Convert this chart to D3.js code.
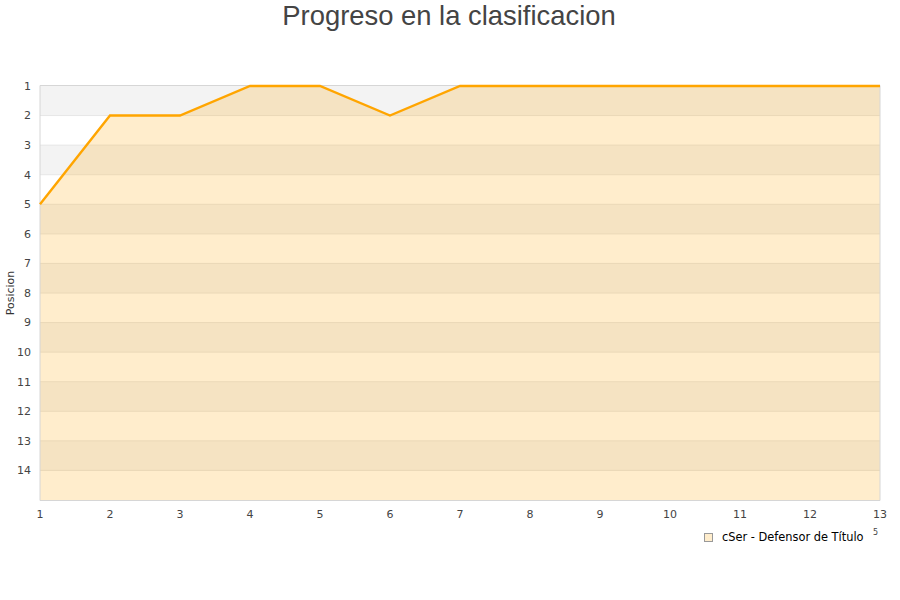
<!DOCTYPE html>
<html><head><meta charset="utf-8">
<script src="https://cdn.jsdelivr.net/npm/d3@7"></script>
<style>body{margin:0;background:#fff}svg{display:block}</style>
</head><body>
<svg id="c" width="900" height="600"></svg>
<script>
const jornadas = [1,2,3,4,5,6,7,8,9,10,11,12,13];
const posiciones = [5,2,2,1,1,2,1,1,1,1,1,1,1];
const yTicks = [1,2,3,4,5,6,7,8,9,10,11,12,13,14];
const serieNombre = "cSer - Defensor de Título";
const titulo = "Progreso en la clasificacion";
const yTitulo = "Posicion";

const svg = d3.select("#c");
const L=40, R=880, T=86, B=500;
const x = d3.scaleLinear().domain([1,13]).range([L,R]);
const y = d3.scaleLinear().domain([1,15]).range([T,B]);

const bands = d3.range(1,15);
svg.append("g").selectAll("rect").data(bands).join("rect")
  .attr("x",L).attr("width",R-L)
  .attr("y",d=>y(d)).attr("height",d=>y(d+1)-y(d))
  .attr("fill",d=>d%2===1?"#f3f3f3":"#ffffff");

svg.append("g").selectAll("line").data(yTicks.slice(1)).join("line")
  .attr("x1",L).attr("x2",R).attr("y1",d=>y(d)).attr("y2",d=>y(d))
  .attr("stroke","#e6e6e6").attr("stroke-width",1);

const data = jornadas.map((j,i)=>({j,p:posiciones[i]}));

svg.append("path").datum(data)
  .attr("d",d3.area().x(d=>x(d.j)).y0(y(15)).y1(d=>y(d.p)))
  .attr("fill","orange").attr("fill-opacity",0.2);

svg.append("path")
  .attr("d",`M${L},${T-0.5}H${R}V${B+0.5}H${L}Z`)
  .attr("fill","none").attr("stroke","#d6d6d6").attr("stroke-width",1);

svg.append("path").datum(data)
  .attr("d",d3.line().x(d=>x(d.j)).y(d=>y(d.p)))
  .attr("fill","none").attr("stroke","orange").attr("stroke-width",2.4);

svg.append("g").selectAll("text").data(yTicks).join("text")
  .attr("x",31).attr("y",d=>y(d)).attr("dy","0.35em")
  .attr("text-anchor","end")
  .attr("font-family","DejaVu Sans").attr("font-size",11).attr("fill","#444")
  .text(d=>d);

svg.append("g").selectAll("text").data(jornadas).join("text")
  .attr("x",d=>x(d)).attr("y",518)
  .attr("text-anchor","middle")
  .attr("font-family","DejaVu Sans").attr("font-size",11).attr("fill","#444")
  .text(d=>d);

svg.append("text").attr("x",449).attr("y",25).attr("text-anchor","middle")
  .attr("font-family","Liberation Sans").attr("font-size",27.4).attr("fill","#444")
  .text(titulo);

svg.append("text").attr("transform",`translate(14,${(T+B)/2}) rotate(-90)`)
  .attr("text-anchor","middle")
  .attr("font-family","DejaVu Sans").attr("font-size",11).attr("fill","#333")
  .text(yTitulo);

svg.append("rect").attr("x",704.5).attr("y",533.5).attr("width",8).attr("height",8)
  .attr("fill","#ffedcc").attr("stroke","#999");
svg.append("text").attr("x",722).attr("y",541)
  .attr("font-family","DejaVu Sans").attr("font-size",11.4).attr("fill","#000")
  .text(serieNombre);
svg.append("text").attr("x",873).attr("y",535)
  .attr("font-family","DejaVu Sans").attr("font-size",8).attr("fill","#444")
  .text("5");
</script>
</body></html>
